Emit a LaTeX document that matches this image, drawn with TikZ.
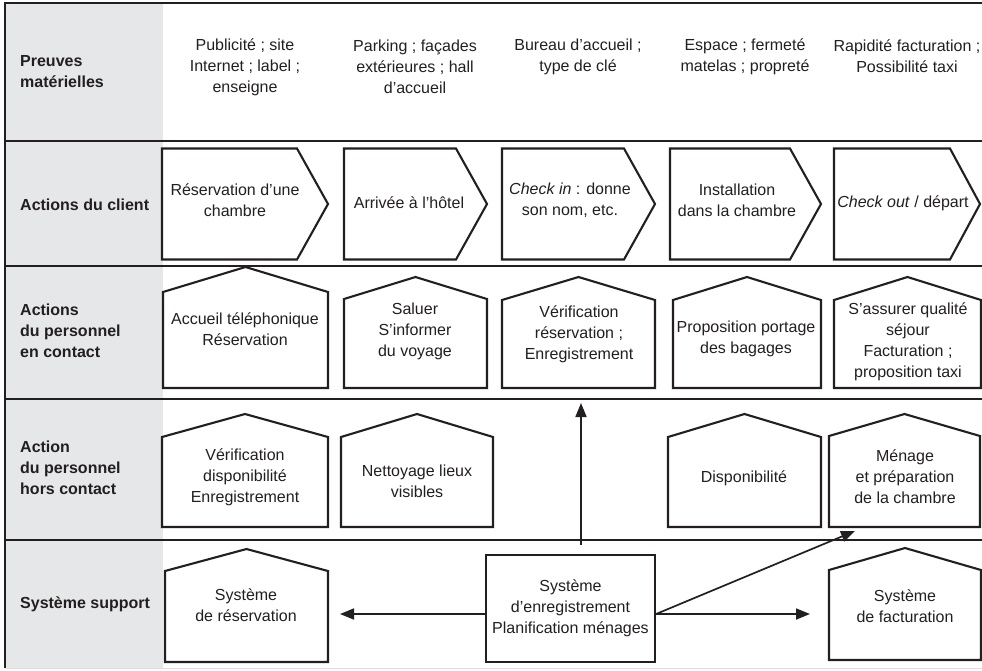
\documentclass[tikz,border=0pt]{standalone}
\usepackage{fontspec}
\setmainfont{Liberation Sans}
\usetikzlibrary{arrows.meta}
\definecolor{ink}{HTML}{231F20}
\definecolor{lane}{HTML}{E6E7E8}
\newcommand\housebox[5]{\draw[boxline] (#1,#5) -- (#1,#4) -- ({(#1+#2)/2},#3) -- (#2,#4) -- (#2,#5) -- cycle;}
\newcommand\chevbox[3]{\draw[boxline] (#1,148.5) -- (#2,148.5) -- (#3,204) -- (#2,259.5) -- (#1,259.5) -- cycle;}
\begin{document}
\begin{tikzpicture}[x=1pt,y=-1pt,
  every node/.style={font=\fontsize{16}{21}\selectfont, text=ink, align=center, inner sep=0pt},
  lbl/.style={font=\fontsize{16}{21}\selectfont\bfseries, align=left, anchor=west},
  boxline/.style={draw=ink, line width=2.1pt, line join=miter, fill=white},
  sep/.style={draw=ink, line width=1.5pt},
  conn/.style={draw=ink, line width=1.7pt, -{Triangle[length=14pt,width=11pt]}}]

\useasboundingbox (0,0) rectangle (982,670);
\fill[lane] (5,3) rectangle (163,668);
\foreach \y in {141,266,399,540} \draw[sep] (5,\y) -- (982,\y);
\draw[sep] (982,3) -- (5,3) -- (5,668);
\draw[gray!25, line width=0.8pt] (5,668.5) -- (982,668.5);

% lane labels
\node[lbl] (l1) at (20,72) {Preuves\\matérielles};
\node[lbl] (l2) at (20,205) {Actions du client};
\node[lbl] (l3) at (20,331) {Actions\\du personnel\\en contact};
\node[lbl] (l4) at (20,468) {Action\\du personnel\\hors contact};
\node[lbl] (l5) at (20,604) {Système support};

% row 1: physical evidence
\node (p1) at (245,67) {Publicité ; site\\Internet ; label ;\\enseigne};
\node (p2) at (415,67) {Parking ; façades\\extérieures ; hall\\d’accueil};
\node (p3) at (578,56.5) {Bureau d’accueil ;\\type de clé};
\node (p4) at (745,56.5) {Espace ; fermeté\\matelas ; propreté};
\node (p5) at (907,56.5) {Rapidité facturation ;\\Possibilité taxi};

% row 2: customer actions
\chevbox{162}{297}{328}
\chevbox{344}{456}{487}
\chevbox{502}{624}{655}
\chevbox{670}{790}{821}
\chevbox{834}{950}{980}
\node (c1) at (235,200.5) {Réservation d’une\\chambre};
\node (c2) at (409,203) {Arrivée à l’hôtel};
\node (c3) at (570,200.5) {\textit{Check in} : donne\\son nom, etc.};
\node (c4) at (737,200.5) {Installation\\dans la chambre};
\node (c5) at (903,203) {\textit{Check out} / départ};

% row 3: contact staff
\housebox{163}{328}{267}{292}{388}
\housebox{344}{487}{277}{299}{388}
\housebox{502}{655}{277}{300}{388}
\housebox{673}{821}{277}{300}{388}
\housebox{834}{981}{277}{300}{388}
\node (e1) at (245,329.5) {Accueil téléphonique\\Réservation};
\node (e2) at (415,331) {Saluer\\S’informer\\du voyage};
\node (e3) at (579,334) {Vérification\\réservation ;\\Enregistrement};
\node (e4) at (746,338.5) {Proposition portage\\des bagages};
\node (e5) at (908,341.5) {S’assurer qualité\\séjour\\Facturation ;\\proposition taxi};

% row 4: backstage staff
\housebox{162}{328}{414}{437}{527}
\housebox{341}{493}{414}{437}{527}
\housebox{668}{821}{414}{437}{527}
\housebox{829}{980}{414}{436}{527}
\node (h1) at (245,477) {Vérification\\disponibilité\\Enregistrement};
\node (h2) at (417,481.5) {Nettoyage lieux\\visibles};
\node (h3) at (744,478) {Disponibilité};
\node (h4) at (905,477) {Ménage\\et préparation\\de la chambre};

% row 5: support systems
\housebox{165}{328}{549}{571}{662}
\housebox{829}{981}{548}{570}{660}
\node (s1) at (246,605.5) {Système\\de réservation};
\node (s3) at (905,606.5) {Système\\de facturation};
\node[boxline, minimum width=169pt, minimum height=107pt] (sys) at (570.5,608.5)
  {Système\\d’enregistrement\\Planification ménages};

% connectors
\coordinate (vhead) at (581,403);
\coordinate (lhead) at (340,614);
\coordinate (rhead) at (810,614);
\coordinate (dhead) at (855,531);
\draw[conn] ([xshift=10.5pt,yshift=9pt]sys.north) -- (vhead);
\draw[conn] ([yshift=-5.5pt]sys.west) -- (lhead);
\draw[conn] ([yshift=-5.5pt]sys.east) -- (rhead);
\draw[conn] ([yshift=-5.5pt]sys.east) -- (dhead);
\end{tikzpicture}
\end{document}
